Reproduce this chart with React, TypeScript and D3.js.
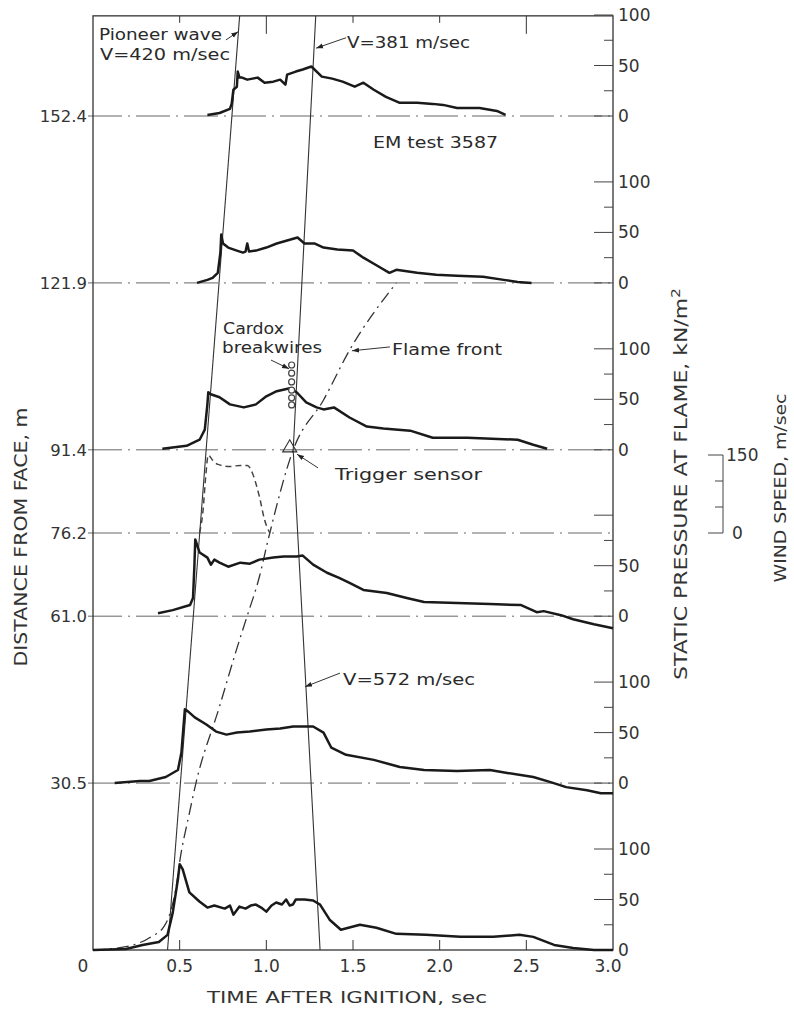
import React, { useEffect, useRef } from "react";
import * as d3 from "d3";

// stations on the distance axis (m)
const stations = [152.4, 121.9, 91.4, 76.2, 61.0, 30.5];
const stationLabels = ["152.4", "121.9", "91.4", "76.2", "61.0", "30.5"];
const timeTicks = [0, 0.5, 1.0, 1.5, 2.0, 2.5, 3.0];
const timeLabels = ["0", "0.5", "1.0", "1.5", "2.0", "2.5", "3.0"];
const pressureMajor = [0, 50, 100];
const pressureMinor = [25, 75];
const windTicks = [0, 50, 100, 150];
const windLabels = ["0", "", "", "150"];

// static pressure traces [time sec, kN/m2]
const p1524 = [[0.66,1],[0.73,3],[0.79,7],[0.80,12],[0.81,26],[0.83,29],[0.835,44],[0.845,38],[0.86,38],[0.89,36],[0.92,37],[0.95,38],[0.99,33],[1.04,34],[1.08,36],[1.11,31],[1.12,41],[1.17,44],[1.21,46],[1.26,49],[1.32,39],[1.38,37],[1.44,34],[1.51,29],[1.56,33],[1.62,26],[1.69,19],[1.77,13],[1.87,13],[1.96,12],[2.02,11],[2.10,8],[2.23,8],[2.33,5],[2.38,1]];
const p1219 = [[0.60,0],[0.66,3],[0.69,5],[0.72,10],[0.735,30],[0.74,48],[0.75,39],[0.78,35],[0.83,32],[0.865,30],[0.88,31],[0.89,39],[0.90,31],[0.94,32],[1.0,35],[1.06,39],[1.12,42],[1.18,45],[1.22,39],[1.28,39],[1.33,35],[1.41,33],[1.50,32],[1.56,25],[1.64,17],[1.71,10],[1.75,13],[1.87,10],[1.98,8],[2.10,7],[2.25,6],[2.37,3],[2.45,1],[2.53,0]];
const p914 = [[0.40,1],[0.54,4],[0.615,10],[0.645,20],[0.66,45],[0.665,57],[0.68,55],[0.73,52],[0.79,45],[0.87,42],[0.94,45],[1.0,53],[1.06,58],[1.135,61],[1.175,57],[1.23,47],[1.29,42],[1.33,40],[1.39,42],[1.48,32],[1.58,23],[1.675,21],[1.83,19],[1.96,12],[2.16,12],[2.45,10],[2.54,5],[2.62,1]];
const p610 = [[0.375,3],[0.46,6],[0.56,11],[0.577,18],[0.585,50],[0.59,76],[0.615,63],[0.66,58],[0.68,51],[0.70,56],[0.73,53],[0.78,49],[0.85,53],[0.905,52],[0.96,56],[1.04,58],[1.10,59],[1.175,59],[1.21,60],[1.27,51],[1.35,43],[1.42,38],[1.48,33],[1.56,26],[1.695,23],[1.81,18],[1.91,14],[2.10,13],[2.29,12],[2.47,11],[2.56,4],[2.60,5],[2.70,1],[2.77,-3],[2.89,-8],[3.0,-12]];
const p305 = [[0.125,0],[0.27,2],[0.325,2],[0.42,6],[0.49,13],[0.51,30],[0.53,73],[0.548,71],[0.587,65],[0.654,58],[0.71,51],[0.77,48],[0.83,50],[0.905,51],[1.0,53],[1.08,54],[1.155,56],[1.27,56],[1.33,50],[1.375,35],[1.46,28],[1.62,23],[1.77,16],[1.91,13],[2.10,12],[2.29,13],[2.39,10],[2.54,6],[2.64,1],[2.73,-4],[2.85,-7],[2.93,-10],[3.0,-10]];
const p0 = [[0,0],[0.19,1],[0.286,5],[0.38,8],[0.43,15],[0.46,37],[0.49,70],[0.50,85],[0.517,80],[0.556,57],[0.614,48],[0.66,42],[0.70,44],[0.76,41],[0.79,44],[0.81,35],[0.845,43],[0.88,41],[0.91,44],[0.94,45],[0.97,42],[1.0,38],[1.03,44],[1.057,47],[1.09,45],[1.114,50],[1.135,44],[1.153,45],[1.17,50],[1.22,50],[1.27,49],[1.31,45],[1.365,30],[1.43,20],[1.54,25],[1.635,22],[1.75,16],[1.92,15],[2.12,13],[2.31,13],[2.46,15],[2.54,13],[2.66,5],[2.77,2],[2.89,0],[3.0,0]];
const traceStations = [152.4, 121.9, 91.4, 61.0, 30.5, 0];
const traces = [p1524, p1219, p914, p610, p305, p0];
const axisLabelSets = [[0,50,100],[0,50,100],[0,50,100],[0,50],[0,50,100],[0,50,100]];

// wind speed at 76.2 m [time sec, m/sec]
const wind762 = [[0.615,0],[0.635,44],[0.65,108],[0.665,150],[0.69,140],[0.72,132],[0.79,128],[0.85,130],[0.89,130],[0.92,115],[0.94,95],[0.96,70],[0.99,25],[1.02,0]];

// flame front [time sec, distance m]
const flameFront = [[0,0],[0.19,0.6],[0.334,2.4],[0.41,4.3],[0.45,7.3],[0.48,11.6],[0.50,16.1],[0.556,25],[0.594,30.5],[0.73,44.5],[0.827,54.8],[0.885,60.6],[0.96,68.2],[1.01,74.9],[1.155,91.4],[1.33,100.5],[1.48,109.6],[1.75,121.9]];
// pressure wave lines [time sec, distance m]
const pioneerWave = [[0.43,0],[0.846,170.7]];
const reflectedWave = [[1.31,0],[1.155,91.4],[1.285,170.7]];
const breakwires = [106.9, 105.4, 103.8, 102.3, 100.9, 99.6];
const breakwireTime = 1.146;
const triggerSensor = [1.135, 91.4];

const App = () => {
  const svgRef = useRef(null);

  useEffect(() => {
    document.body.style.margin = "0";
    document.body.style.overflow = "hidden";
    const svg = d3.select(svgRef.current);
    svg.selectAll("*").remove();
    const font = "DejaVu Sans, Verdana, sans-serif";
    const ink = "#1a1a1a";
    const txt = "#333";

    const x = d3.scaleLinear().domain([0, 3]).range([93, 613]);
    const yD = d3.scaleLinear().domain([0, 152.4]).range([950, 116]);
    const pPx = d3.scaleLinear().domain([0, 100]).range([0, 101]);
    const wPx = d3.scaleLinear().domain([0, 150]).range([0, 78]);
    const top = yD(170.7);

    svg.append("defs").append("marker")
      .attr("id", "arr").attr("viewBox", "0 0 10 10")
      .attr("refX", 10).attr("refY", 5)
      .attr("markerWidth", 7).attr("markerHeight", 7)
      .attr("orient", "auto")
      .append("path").attr("d", "M0,1.5 L10,5 L0,8.5 z").attr("fill", "#222");

    // station lines (dash-dot)
    svg.selectAll(".st").data(stations).join("line")
      .attr("x1", 88).attr("x2", x(3))
      .attr("y1", d => yD(d)).attr("y2", d => yD(d))
      .attr("stroke", "#666").attr("stroke-width", 1)
      .attr("stroke-dasharray", "34,6,2,6");

    // frame
    svg.append("rect")
      .attr("x", x(0)).attr("y", top)
      .attr("width", x(3) - x(0)).attr("height", yD(0) - top)
      .attr("fill", "none").attr("stroke", "#333").attr("stroke-width", 1.3);

    // time ticks
    svg.selectAll(".tb").data(timeTicks.slice(1, -1)).join("line")
      .attr("x1", d => x(d)).attr("x2", d => x(d))
      .attr("y1", yD(0)).attr("y2", yD(0) - 10)
      .attr("stroke", "#333");
    svg.selectAll(".tt").data(timeTicks.slice(1, -1)).join("line")
      .attr("x1", d => x(d)).attr("x2", d => x(d))
      .attr("y1", top).attr("y2", (d, i) => top + (i === 1 || i === 4 ? 18 : 7))
      .attr("stroke", "#333");
    svg.selectAll(".tl").data(timeTicks).join("text")
      .attr("x", (d, i) => x(d) + (i === 0 ? -10 : i === 6 ? -5 : 0))
      .attr("y", 972)
      .attr("text-anchor", "middle")
      .attr("font-family", font).attr("font-size", 17).attr("fill", txt)
      .text((d, i) => timeLabels[i]);

    // distance labels
    svg.selectAll(".dl").data(stations).join("text")
      .attr("x", 87).attr("y", d => yD(d) + 6)
      .attr("text-anchor", "end")
      .attr("font-family", font).attr("font-size", 16.5).attr("fill", txt)
      .text((d, i) => stationLabels[i]);

    // right pressure axes
    traceStations.forEach((s, k) => {
      const base = yD(s);
      svg.selectAll(null).data(pressureMajor.filter(v => s !== 0 || v > 0)).join("line")
        .attr("x1", x(3) - 19).attr("x2", x(3))
        .attr("y1", v => base - pPx(v)).attr("y2", v => base - pPx(v))
        .attr("stroke", "#444");
      svg.selectAll(null).data(pressureMinor).join("line")
        .attr("x1", x(3) - 9).attr("x2", x(3))
        .attr("y1", v => base - pPx(v)).attr("y2", v => base - pPx(v))
        .attr("stroke", "#444");
      svg.selectAll(null).data(axisLabelSets[k]).join("text")
        .attr("x", x(3) + 5).attr("y", v => base - pPx(v) + 6)
        .attr("font-family", font).attr("font-size", 17).attr("fill", txt)
        .text(v => String(v));
    });

    // wind speed axis
    const wBase = yD(76.2);
    const wx = 723;
    svg.append("line").attr("x1", wx).attr("x2", wx)
      .attr("y1", wBase).attr("y2", wBase - wPx(150)).attr("stroke", "#444");
    svg.selectAll(".wt").data(windTicks).join("line")
      .attr("x1", (d, i) => wx - (i === 0 || i === 3 ? 15 : 8)).attr("x2", wx)
      .attr("y1", d => wBase - wPx(d)).attr("y2", d => wBase - wPx(d))
      .attr("stroke", "#444");
    svg.selectAll(".wl").data(windTicks).join("text")
      .attr("x", (d, i) => (i === 0 ? wx + 9 : wx + 3)).attr("y", d => wBase - wPx(d) + 6)
      .attr("font-family", font).attr("font-size", 17).attr("fill", txt)
      .text((d, i) => windLabels[i]);

    // wave lines
    const lineD = d3.line().x(d => x(d[0])).y(d => yD(d[1]));
    [pioneerWave, reflectedWave].forEach(w => {
      svg.append("path").attr("d", lineD(w))
        .attr("fill", "none").attr("stroke", "#333").attr("stroke-width", 1.1);
    });

    // flame front
    svg.append("path")
      .attr("d", lineD.curve(d3.curveMonotoneX)(flameFront))
      .attr("fill", "none").attr("stroke", "#333").attr("stroke-width", 1.3)
      .attr("stroke-dasharray", "12,5,2,5");

    // wind speed trace
    const windLine = d3.line().curve(d3.curveMonotoneX)
      .x(d => x(d[0])).y(d => wBase - wPx(d[1]));
    svg.append("path").attr("d", windLine(wind762))
      .attr("fill", "none").attr("stroke", "#444").attr("stroke-width", 1.5)
      .attr("stroke-dasharray", "6,4");

    // pressure traces
    traces.forEach((tr, k) => {
      const base = yD(traceStations[k]);
      const pl = d3.line().x(d => x(d[0])).y(d => base - pPx(d[1]));
      svg.append("path").attr("d", pl(tr))
        .attr("fill", "none").attr("stroke", ink).attr("stroke-width", 2.5)
        .attr("stroke-linejoin", "round");
    });

    // breakwires
    svg.selectAll(".bw").data(breakwires).join("circle")
      .attr("cx", x(breakwireTime)).attr("cy", d => yD(d)).attr("r", 3)
      .attr("fill", "white").attr("stroke", "#444").attr("stroke-width", 1.2);

    // trigger sensor triangle
    const tx = x(triggerSensor[0]);
    const ty = yD(triggerSensor[1]) + 2;
    svg.append("path")
      .attr("d", `M${tx - 7},${ty} L${tx + 7},${ty} L${tx},${ty - 12} Z`)
      .attr("fill", "none").attr("stroke", "#333").attr("stroke-width", 1.2);

    // leaders [from t,d] -> [to t,d]
    const leaders = [
      [[0.767, 166.3], [0.837, 167.8]],
      [[1.46, 166.7], [1.287, 164.8]],
      [[1.027, 107.8], [1.131, 106.2]],
      [[1.713, 110.2], [1.494, 109.5]],
      [[1.298, 88.1], [1.177, 90.6]],
      [[1.425, 50.6], [1.223, 48.1]],
    ];
    leaders.forEach(l => {
      svg.append("path").attr("d", lineD.curve(d3.curveLinear)(l))
        .attr("fill", "none").attr("stroke", "#333").attr("stroke-width", 1)
        .attr("marker-end", "url(#arr)");
    });

    // labels [text, x, y, width]
    const notes = [
      ["Pioneer wave", 99, 40, 123],
      ["V=420 m/sec", 100, 60, 130],
      ["V=381 m/sec", 347, 48, 123],
      ["EM test 3587", 373, 148, 125],
      ["Cardox", 223, 334, 61],
      ["breakwires", 222, 353, 100],
      ["Flame front", 392, 355, 110],
      ["Trigger sensor", 335, 480, 147],
      ["V=572 m/sec", 343, 685, 132],
    ];
    notes.forEach(n => {
      svg.append("text").attr("x", n[1]).attr("y", n[2])
        .attr("font-family", font).attr("font-size", 16).attr("fill", "#2a2a2a")
        .attr("textLength", n[3]).attr("lengthAdjust", "spacingAndGlyphs")
        .text(n[0]);
    });

    // axis titles
    svg.append("text").attr("x", 347).attr("y", 1003)
      .attr("text-anchor", "middle")
      .attr("font-family", font).attr("font-size", 16).attr("fill", txt)
      .attr("textLength", 280).attr("lengthAdjust", "spacingAndGlyphs")
      .text("TIME AFTER IGNITION, sec");
    svg.append("text").attr("transform", "translate(27,537) rotate(-90)")
      .attr("text-anchor", "middle")
      .attr("font-family", font).attr("font-size", 17).attr("fill", txt)
      .attr("textLength", 259).attr("lengthAdjust", "spacingAndGlyphs")
      .text("DISTANCE FROM FACE, m");
    const sp = svg.append("text").attr("transform", "translate(687,484) rotate(-90)")
      .attr("text-anchor", "middle")
      .attr("font-family", font).attr("font-size", 17).attr("fill", txt)
      .attr("textLength", 392).attr("lengthAdjust", "spacingAndGlyphs");
    sp.append("tspan").text("STATIC PRESSURE AT FLAME, kN/m");
    sp.append("tspan").attr("baseline-shift", "super").attr("font-size", 12).text("2");
    svg.append("text").attr("transform", "translate(786,488) rotate(-90)")
      .attr("text-anchor", "middle")
      .attr("font-family", font).attr("font-size", 16).attr("fill", txt)
      .attr("textLength", 189).attr("lengthAdjust", "spacingAndGlyphs")
      .text("WIND SPEED, m/sec");
  }, []);

  return (
    <div>
      <svg ref={svgRef} width={794} height={1012} style={{ display: "block", background: "white" }} />
    </div>
  );
};

export default App;
